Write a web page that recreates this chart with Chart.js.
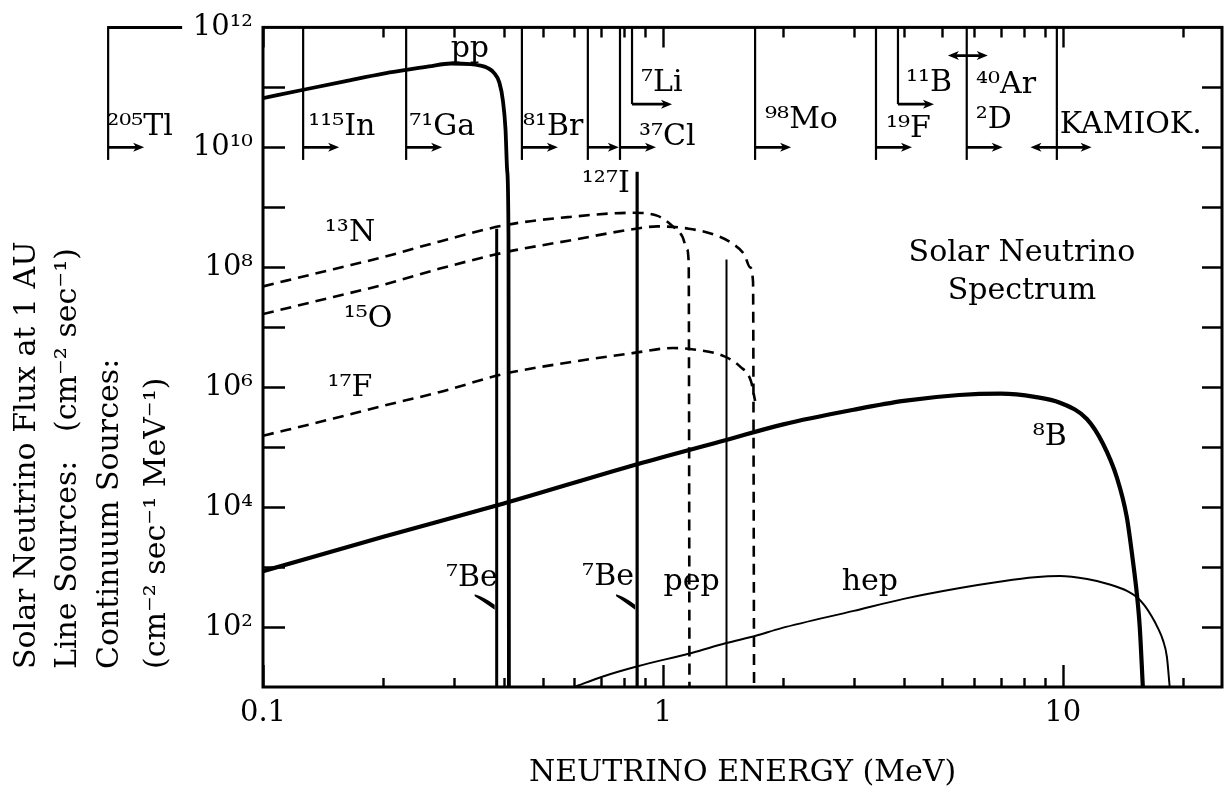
<!DOCTYPE html>
<html>
<head>
<meta charset="utf-8">
<script src="https://cdn.jsdelivr.net/npm/chart.js@4.4.0/dist/chart.umd.min.js"></script>
<style>
  html, body { margin: 0; padding: 0; background: #fff; }
  canvas { display: block; }
</style>
</head>
<body>
<canvas id="c" width="1226" height="797"></canvas>
<script>
// ------------------------------------------------------------------
// DATA
// ------------------------------------------------------------------
// pp continuum (cm^-2 s^-1 MeV^-1)
const ppEnergy = [0.100, 0.128, 0.160, 0.200, 0.228, 0.260, 0.295, 0.330, 0.350, 0.365, 0.378, 0.390, 0.398, 0.404, 0.408, 0.411, 0.412];
const ppFlux   = [6.6e10, 9.3e10, 1.26e11, 1.7e11, 1.95e11, 2.24e11, 2.5e11, 2.45e11, 2.3e11, 2.1e11, 1.75e11, 1.2e11, 6.0e10, 2.0e10, 4.0e9, 3.2e8, 10];

// line sources (cm^-2 s^-1)
const be7LowEnergy  = [0.384, 0.384];
const be7LowFlux    = [10, 4.4e8];
const be7HighEnergy = [0.862, 0.862];
const be7HighFlux   = [10, 3.9e9];
const pepEnergy     = [1.442, 1.442];
const pepFlux       = [10, 1.35e8];

// CNO continua
const n13Energy = [0.100, 0.150, 0.200, 0.277, 0.407, 0.585, 0.840, 0.970, 1.059, 1.120, 1.148, 1.160, 1.165];
const n13Flux   = [4.8e7, 9.3e7, 1.48e8, 2.7e8, 5.1e8, 6.9e8, 8.1e8, 7.2e8, 4.8e8, 3.2e8, 2.0e8, 1.15e8, 10];
const o15Energy = [0.100, 0.150, 0.200, 0.277, 0.407, 0.585, 0.840, 0.970, 1.160, 1.360, 1.490, 1.600, 1.650, 1.680, 1.690];
const o15Flux   = [1.66e7, 3.2e7, 5.1e7, 9.5e7, 1.8e8, 2.8e8, 4.3e8, 4.8e8, 4.4e8, 3.4e8, 2.5e8, 1.6e8, 1.0e8, 5.7e7, 10];
const f17Energy = [0.100, 0.150, 0.200, 0.277, 0.400, 0.585, 0.840, 1.060, 1.180, 1.420, 1.560, 1.660, 1.700];
const f17Flux   = [1.55e5, 3.0e5, 4.9e5, 8.3e5, 1.66e6, 2.6e6, 3.7e6, 4.5e6, 4.3e6, 3.3e6, 2.2e6, 1.26e6, 5.9e5];

// 8B continuum
const b8Energy = [0.10, 0.20, 0.40, 0.862, 1.44, 2.0, 3.0, 4.0, 5.5, 7.0, 8.5, 9.83, 11.48, 12.59, 13.65, 14.45, 14.96, 15.31, 15.57, 15.85];
const b8Flux   = [850, 3.2e3, 1.15e4, 5.2e4, 1.32e5, 2.4e5, 4.2e5, 5.9e5, 7.4e5, 7.8e5, 6.9e5, 5.5e5, 2.95e5, 1.15e5, 3.1e4, 6.8e3, 1.3e3, 360, 100, 10];

// hep continuum
const hepEnergy = [0.60, 0.708, 0.86, 1.18, 1.44, 1.70, 1.97, 3.0, 4.0, 5.53, 7.0, 8.5, 9.83, 11.5, 13.1, 14.5, 15.3, 16.0, 16.7, 17.3, 17.8, 18.2, 18.5];
const hepFlux   = [10, 15, 22, 37, 54, 71, 95, 186, 295, 447, 575, 676, 708, 631, 513, 398, 316, 229, 148, 95, 60, 32, 10];

// axes
const xTickValues = [0.1, 0.2, 0.3, 0.4, 0.5, 0.6, 0.7, 0.8, 0.9, 1, 2, 3, 4, 5, 6, 7, 8, 9, 10, 20];
const xTickLabels = ['0.1', '', '', '', '', '', '', '', '', '1', '', '', '', '', '', '', '', '', '10', ''];
const yTickValues = [1e1, 1e2, 1e3, 1e4, 1e5, 1e6, 1e7, 1e8, 1e9, 1e10, 1e11, 1e12];
const yTickLabels = ['', '10²', '', '10⁴', '', '10⁶', '', '10⁸', '', '10¹⁰', '', '10¹²'];

// detector thresholds (MeV)
const detectorNames      = ['²⁰⁵Tl', '¹¹⁵In', '⁷¹Ga', '⁸¹Br', '¹²⁷I', '³⁷Cl', '⁷Li', '⁹⁸Mo', '¹⁹F', '¹¹B', '²D', 'KAMIOK.'];
const detectorThresholds = [0.041, 0.126, 0.228, 0.444, 0.649, 0.781, 0.837, 1.70, 3.41, 3.87, 5.75, 9.66];
const argonName   = '⁴⁰Ar';
const argonRange  = [5.16, 6.49];
const kamiokaRange = [8.3, 11.8];

// texts
const curveLabelTexts = ['pp', '¹³N', '¹⁵O', '¹⁷F', '⁸B', '⁷Be', '⁷Be', 'pep', 'hep'];
const spectrumTitle = ['Solar Neutrino', 'Spectrum'];
const xTitle = 'NEUTRINO ENERGY (MeV)';
const yTitleLines = ['Solar Neutrino Flux at 1 AU', 'Line Sources:   (cm⁻² sec⁻¹)', 'Continuum Sources:', '(cm⁻² sec⁻¹ MeV⁻¹)'];

// ------------------------------------------------------------------
// LAYOUT / STYLE (kept apart from the data)
// ------------------------------------------------------------------
const FONT = '"DejaVu Serif", "Liberation Serif", serif';
const INK = '#000';

// label anchors in data space [energy, flux]
const curveLabelAnchors = [
  [0.329, 10 ** 11.63], [0.165, 10 ** 8.56], [0.183, 10 ** 7.13], [0.165, 10 ** 5.99],
  [9.28, 10 ** 5.16], [0.333, 10 ** 2.81], [0.729, 10 ** 2.83], [1.18, 10 ** 2.75], [3.29, 10 ** 2.75]
];
const spectrumTitleAnchors = [[7.9, 10 ** 8.23], [7.9, 10 ** 7.60]];
// leader strokes for the 7Be labels: [lineEnergy, dxStart, dxEnd, flux start, flux end]
const beLeaders = [[0.384, -22, -2, 10 ** 2.53, 10 ** 2.33], [0.862, -21, -2, 10 ** 2.53, 10 ** 2.33]];

// detector marker layout, parallel to detectorNames
const detectorLayout = [
  { bottom: 10 ** 9.79, arrow: 10 ** 10.0, dx: -1, ly: 10 ** 10.34, topBar: 74 },
  { bottom: 10 ** 9.79, arrow: 10 ** 10.0, dx: 5, ly: 10 ** 10.34 },
  { bottom: 10 ** 9.79, arrow: 10 ** 10.0, dx: 3, ly: 10 ** 10.34 },
  { bottom: 10 ** 9.79, arrow: 10 ** 10.0, dx: 1, ly: 10 ** 10.34 },
  { bottom: 10 ** 9.79, arrow: 10 ** 10.0, dx: -6, ly: 10 ** 9.39, len: 31 },
  { bottom: 10 ** 9.79, arrow: 10 ** 10.0, dx: 19, ly: 10 ** 10.17 },
  { bottom: 10 ** 10.72, arrow: 10 ** 10.72, dx: 9, ly: 10 ** 11.07, len: 40 },
  { bottom: 10 ** 9.79, arrow: 10 ** 10.0, dx: 10, ly: 10 ** 10.46 },
  { bottom: 10 ** 9.79, arrow: 10 ** 10.0, dx: 10, ly: 10 ** 10.31 },
  { bottom: 10 ** 10.72, arrow: 10 ** 10.72, dx: 8, ly: 10 ** 11.07 },
  { bottom: 10 ** 9.79, arrow: 10 ** 10.0, dx: 9, ly: 10 ** 10.46 },
  { bottom: 10 ** 9.79, arrow: 10 ** 10.0, dx: 3, ly: 10 ** 10.37, double: true }
];
const argonLayout = { arrow: 10 ** 11.53, dx: 28, ly: 10 ** 11.04 };

function pts(E, F) { return E.map((e, i) => ({ x: e, y: F[i] })); }
function line(data, width, dash, smooth) {
  return {
    data, showLine: true, borderColor: INK, backgroundColor: INK, borderWidth: width,
    borderDash: dash || [], pointRadius: 0, pointHoverRadius: 0,
    cubicInterpolationMode: smooth ? 'monotone' : 'default', tension: 0, fill: false
  };
}

function arrowHead(ctx, xTip, y, dir) {
  ctx.beginPath();
  ctx.moveTo(xTip, y);
  ctx.lineTo(xTip - dir * 11, y - 4.5);
  ctx.lineTo(xTip - dir * 8, y);
  ctx.lineTo(xTip - dir * 11, y + 4.5);
  ctx.closePath();
  ctx.fill();
}

const decorations = {
  id: 'decorations',
  afterDatasetsDraw(chart) {
    const { ctx, chartArea: ca, scales } = chart;
    const X = v => scales.x.getPixelForValue(v);
    const Y = v => scales.y.getPixelForValue(v);
    ctx.save();
    ctx.strokeStyle = INK; ctx.fillStyle = INK;
    ctx.lineCap = 'butt';

    // frame
    ctx.lineWidth = 3;
    ctx.strokeRect(ca.left, ca.top, ca.right - ca.left, ca.bottom - ca.top);

    // inward ticks, x (bottom + top)
    ctx.lineWidth = 2.4;
    xTickValues.forEach((v, i) => {
      const px = Math.round(X(v)) + 0.5;
      const len = xTickLabels[i] ? 22 : 9;
      ctx.beginPath();
      ctx.moveTo(px, ca.bottom); ctx.lineTo(px, ca.bottom - len);
      ctx.moveTo(px, ca.top); ctx.lineTo(px, ca.top + (xTickLabels[i] ? 20 : 10));
      ctx.stroke();
    });
    // inward ticks, y (left + right)
    yTickValues.forEach(v => {
      const py = Math.round(Y(v)) + 0.5;
      if (py <= ca.top + 2 || py >= ca.bottom - 2) return;
      ctx.beginPath();
      ctx.moveTo(ca.left, py); ctx.lineTo(ca.left + 22, py);
      ctx.moveTo(ca.right, py); ctx.lineTo(ca.right - 20, py);
      ctx.stroke();
    });

    // detector thresholds
    ctx.font = '30px ' + FONT;
    ctx.textBaseline = 'middle';
    ctx.textAlign = 'left';
    detectorNames.forEach((name, i) => {
      const L = detectorLayout[i];
      const px = X(detectorThresholds[i]);
      const ay = Y(L.arrow);
      const len = L.len || 36;
      ctx.lineWidth = 2.2;
      ctx.beginPath();
      ctx.moveTo(px, ca.top); ctx.lineTo(px, Y(L.bottom));
      ctx.stroke();
      if (L.topBar) {
        ctx.lineWidth = 3;
        ctx.beginPath(); ctx.moveTo(px - 1, ca.top); ctx.lineTo(px + L.topBar, ca.top); ctx.stroke();
      }
      ctx.lineWidth = 2.6;
      if (L.double) {
        const x0 = X(kamiokaRange[0]), x1 = X(kamiokaRange[1]);
        ctx.beginPath(); ctx.moveTo(x0 + 4, ay); ctx.lineTo(x1 - 4, ay); ctx.stroke();
        arrowHead(ctx, x0, ay, -1); arrowHead(ctx, x1, ay, 1);
      } else {
        ctx.beginPath(); ctx.moveTo(px, ay); ctx.lineTo(px + len - 4, ay); ctx.stroke();
        arrowHead(ctx, px + len, ay, 1);
      }
      ctx.fillText(name, px + L.dx, Y(L.ly));
    });
    // argon double arrow
    {
      const x0 = X(argonRange[0]), x1 = X(argonRange[1]), ay = Y(argonLayout.arrow);
      ctx.lineWidth = 2.6;
      ctx.beginPath(); ctx.moveTo(x0 + 4, ay); ctx.lineTo(x1 - 4, ay); ctx.stroke();
      arrowHead(ctx, x0, ay, -1); arrowHead(ctx, x1, ay, 1);
      ctx.fillText(argonName, x0 + argonLayout.dx, Y(argonLayout.ly));
    }

    // curve labels
    ctx.textAlign = 'center';
    curveLabelTexts.forEach((t, i) => {
      const [e, f] = curveLabelAnchors[i];
      ctx.fillText(t, X(e), Y(f));
    });
    spectrumTitle.forEach((t, i) => {
      const [e, f] = spectrumTitleAnchors[i];
      ctx.fillText(t, X(e), Y(f));
    });

    // 7Be leaders: tapered wedge pointing at the line
    beLeaders.forEach(([e, d0, d1, f0, f1]) => {
      const lx = X(e);
      const x0 = lx + d0, y0 = Y(f0), x1 = lx + d1, y1 = Y(f1);
      ctx.beginPath();
      ctx.moveTo(x0, y0 - 1);
      ctx.quadraticCurveTo((x0 + x1) / 2, y0 + 2, x1, y1 - 2.5);
      ctx.lineTo(x1, y1 + 2.5);
      ctx.quadraticCurveTo((x0 + x1) / 2 - 2, y0 + 6, x0, y0 + 1);
      ctx.closePath();
      ctx.fill();
    });
    ctx.restore();
  },
  afterDraw(chart) {
    const { ctx, chartArea: ca } = chart;
    ctx.save();
    ctx.fillStyle = INK;
    ctx.font = '30px ' + FONT;
    ctx.textAlign = 'left';
    ctx.textBaseline = 'middle';
    const offsets = [-236, -195, -153, -106];
    yTitleLines.forEach((t, i) => {
      ctx.save();
      ctx.translate(ca.left + offsets[i], ca.bottom - 18);
      ctx.rotate(-Math.PI / 2);
      ctx.fillText(t, 0, 0);
      ctx.restore();
    });
    ctx.restore();
  }
};

const tickFont = { family: FONT, size: 29 };

new Chart(document.getElementById('c'), {
  type: 'scatter',
  data: {
    datasets: [
      line(pts(ppEnergy, ppFlux), 3.8, null, true),
      line(pts(be7LowEnergy, be7LowFlux), 3.0),
      line(pts(be7HighEnergy, be7HighFlux), 3.2),
      line(pts(pepEnergy, pepFlux), 2.0),
      line(pts(n13Energy, n13Flux), 2.6, [11, 7], true),
      line(pts(o15Energy, o15Flux), 2.6, [11, 7], true),
      line(pts(f17Energy, f17Flux), 2.6, [11, 7], true),
      line(pts(b8Energy, b8Flux), 4.2, null, true),
      line(pts(hepEnergy, hepFlux), 2.0, null, true)
    ]
  },
  options: {
    responsive: false,
    animation: false,
    events: [],
    layout: { padding: { top: 25, right: 4, left: 0, bottom: 0 } },
    plugins: { legend: { display: false }, tooltip: { enabled: false } },
    scales: {
      x: {
        type: 'logarithmic', position: 'bottom', min: 0.1, max: 25,
        grid: { display: false, drawTicks: false }, border: { display: false },
        afterBuildTicks: s => { s.ticks = xTickValues.map(v => ({ value: v })); },
        afterFit: s => { s.height = 110; },
        ticks: {
          autoSkip: false, maxRotation: 0, minRotation: 0, padding: 9, color: INK, font: tickFont,
          callback: (v, i) => xTickLabels[i]
        },
        title: { display: true, text: xTitle, color: INK, font: { family: FONT, size: 30 }, padding: { top: 0, bottom: 6 } }
      },
      y: {
        type: 'logarithmic', position: 'left', min: 10, max: 1e12,
        grid: { display: false, drawTicks: false }, border: { display: false },
        afterBuildTicks: s => { s.ticks = yTickValues.map(v => ({ value: v })); },
        afterFit: s => { s.width = 263; },
        ticks: {
          autoSkip: false, padding: 10, color: INK, font: tickFont,
          callback: (v, i) => yTickLabels[i]
        }
      }
    }
  },
  plugins: [decorations]
});
</script>
</body>
</html>
